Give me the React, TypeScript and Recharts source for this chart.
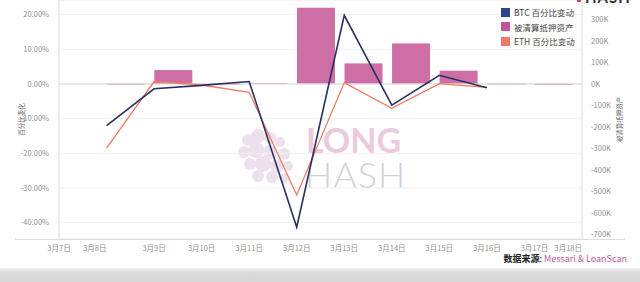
import {
  Bar,
  CartesianGrid,
  ComposedChart,
  Line,
  ReferenceLine,
  XAxis,
  YAxis,
} from 'recharts';

// day of month (March), one slot per day
const days = [7, 8, 9, 10, 11, 12, 13, 14, 15, 16, 17, 18];
const dayLabels = ['3月7日', '3月8日', '3月9日', '3月10日', '3月11日', '3月12日', '3月13日', '3月14日', '3月15日', '3月16日', '3月17日', '3月18日'];

// daily % change
const btcChange = [null, -12.0, -1.4, -0.4, 0.7, -41.3, 19.8, -6.1, 2.5, -1.1, null, null];
const ethChange = [null, -18.5, 0.7, -0.3, -2.4, -32.0, 0.4, -7.0, 0.1, -1.0, null, null];
// liquidated collateral, in thousands
const liquidated = [null, 2, 65, 2, 5, 355, 96, 189, 62, 3, 1, null];

const leftTicks = [-40, -30, -20, -10, 0, 10, 20];
const rightTicks = [-700, -600, -500, -400, -300, -200, -100, 0, 100, 200, 300];

const data = days.map((d, i) => ({
  day: d,
  btc: btcChange[i],
  eth: ethChange[i],
  liq: liquidated[i],
}));

const FONT = '"Noto Sans CJK SC", "Noto Sans", sans-serif';
const BTC = '#27305f';
const ETH = '#ef7b62';
const LIQ = '#cd6ea4';

const legendItems = [
  { label: 'BTC 百分比变动', color: '#2e4490' },
  { label: '被清算抵押资产', color: '#c4549a' },
  { label: 'ETH 百分比变动', color: '#f07866' },
];

// bars start at the day tick and extend to the right
const DayBar = (p: any) => {
  if (p.height == null || p.width == null) return null;
  const h = Math.abs(p.height);
  const y = p.height < 0 ? p.y + p.height : p.y;
  return <rect x={p.x + p.width / 2} y={y} width={p.width} height={Math.max(h, 1)} fill={p.fill} />;
};

const DayTick = ({ x, y, payload }: any) => {
  const i = days.indexOf(payload.value);
  const edge = i === 1 || i === days.length - 1;
  return (
    <text
      x={x}
      y={y + 4}
      textAnchor={edge ? 'end' : 'middle'}
      fontSize={7.5}
      fill="#8f8f8f"
      fontFamily={FONT}
    >
      {dayLabels[i]}
    </text>
  );
};

const LegendBox = () => (
  <div style={{ position: 'absolute', left: 501, top: 5, fontFamily: FONT, fontSize: 8.5, color: '#444', lineHeight: 1 }}>
    {legendItems.map((it) => (
      <div key={it.label} style={{ display: 'flex', alignItems: 'center', height: 14.5, whiteSpace: 'nowrap' }}>
        <span style={{ width: 9, height: 9, background: it.color, marginRight: 4 }} />
        <span>{it.label}</span>
      </div>
    ))}
  </div>
);

const sideTitle = (text: string, side: 'left' | 'right') => ({ viewBox }: any) => {
  const x = side === 'left' ? viewBox.x + 21 : viewBox.x + viewBox.width - 21;
  const y = viewBox.y + viewBox.height / 2;
  return (
    <text
      x={x}
      y={y}
      transform={`rotate(-90 ${x} ${y})`}
      textAnchor="middle"
      dominantBaseline="central"
      fontSize={6.5}
      fill="#666"
      fontFamily={FONT}
    >
      {text}
    </text>
  );
};

const blobDots = [
  [248, 140, 6], [258, 136, 7], [270, 138, 6], [280, 142, 5], [244, 152, 6],
  [256, 150, 8], [270, 152, 7], [284, 154, 6], [250, 164, 6], [263, 164, 8],
  [277, 166, 7], [288, 166, 5], [258, 176, 6], [272, 177, 6], [284, 178, 5],
];

export default function App() {
  return (
    <div style={{ position: 'absolute', left: 0, top: 0, width: 640, height: 282, background: '#fff', overflow: 'hidden' }}>
      <svg width={640} height={282} style={{ position: 'absolute', left: 0, top: 0 }}>
        <g fill="#ece0ec">
          {blobDots.map(([cx, cy, r], i) => (
            <circle key={i} cx={cx} cy={cy} r={r} />
          ))}
        </g>
        <text x={306} y={153} fontSize={34} fontWeight={700} fill="#eccadc" fontFamily="Lato, sans-serif">
          LONG
        </text>
        <text x={305} y={188} fontSize={36} fontWeight={300} fill="#d2d2d6" fontFamily="Lato, sans-serif" letterSpacing={1}>
          HASH
        </text>
      </svg>

      <div style={{ position: 'absolute', left: 0, top: 0 }}>
        <ComposedChart width={640} height={282} data={data} margin={{ top: 0, right: 0, bottom: 0, left: 0 }}>
          <CartesianGrid yAxisId="left" vertical={false} stroke="#efefef" />
          <XAxis
            dataKey="day"
            type="number"
            domain={[7, 18]}
            ticks={days}
            height={43}
            axisLine={false}
            tickLine={false}
            tick={<DayTick />}
          />
          <YAxis
            yAxisId="left"
            width={59}
            domain={[-44.7, 24.2]}
            ticks={leftTicks}
            allowDataOverflow
            tickFormatter={(v) => `${Number(v).toFixed(2)}%`}
            tick={{ fontSize: 7.5, fill: '#8f8f8f', fontFamily: FONT }}
            tickLine={false}
            tickMargin={4}
            axisLine={{ stroke: '#dcdcdc' }}
            label={{ content: sideTitle('百分比变化', 'left') }}
          />
          <YAxis
            yAxisId="right"
            orientation="right"
            width={58}
            domain={[-721, 391]}
            ticks={rightTicks}
            allowDataOverflow
            tickFormatter={(v) => `${v}K`}
            tick={{ fontSize: 7.5, fill: '#8f8f8f', fontFamily: FONT, textAnchor: 'start' }}
            tickLine={false}
            tickMargin={3}
            axisLine={{ stroke: '#dcdcdc' }}
            label={{ content: sideTitle('被清算抵押资产', 'right') }}
          />
          <ReferenceLine yAxisId="left" y={0} stroke="#dedede" strokeWidth={1.2} />
          <Bar yAxisId="right" dataKey="liq" fill={LIQ} barSize={38} shape={<DayBar />} isAnimationActive={false} />
          <Line
            yAxisId="left"
            dataKey="eth"
            stroke={ETH}
            strokeWidth={1.3}
            dot={false}
            activeDot={false}
            type="linear"
            isAnimationActive={false}
          />
          <Line
            yAxisId="left"
            dataKey="btc"
            stroke={BTC}
            strokeWidth={1.6}
            dot={false}
            activeDot={false}
            type="linear"
            isAnimationActive={false}
          />
        </ComposedChart>
      </div>

      <LegendBox />

      {/* baseline running past both axes */}
      <div style={{ position: 'absolute', left: 15, top: 239, width: 610, height: 1, background: '#dcdcdc' }} />

      {/* clipped logo at the top edge */}
      <div style={{ position: 'absolute', left: 577, top: -1, width: 4, height: 3, borderRadius: 2, background: '#c93a7e' }} />
      <div style={{ position: 'absolute', left: 585, top: -12, fontFamily: 'Lato, sans-serif', fontSize: 15, fontWeight: 700, color: '#333', letterSpacing: 1 }}>
        HASH
      </div>

      <div style={{ position: 'absolute', right: 13, top: 253, fontFamily: FONT, fontSize: 9, lineHeight: '12px', whiteSpace: 'nowrap' }}>
        <span style={{ fontWeight: 700, color: '#222' }}>数据来源</span>
        <span style={{ color: '#222' }}>: </span>
        <span style={{ color: '#c2589f' }}>Messari &amp; LoanScan</span>
      </div>

      <div
        style={{
          position: 'absolute',
          left: 0,
          top: 268,
          width: 640,
          height: 14,
          background: 'linear-gradient(#f0f0f0, #dadada 35%, #d8d8d8)',
        }}
      />
    </div>
  );
}
